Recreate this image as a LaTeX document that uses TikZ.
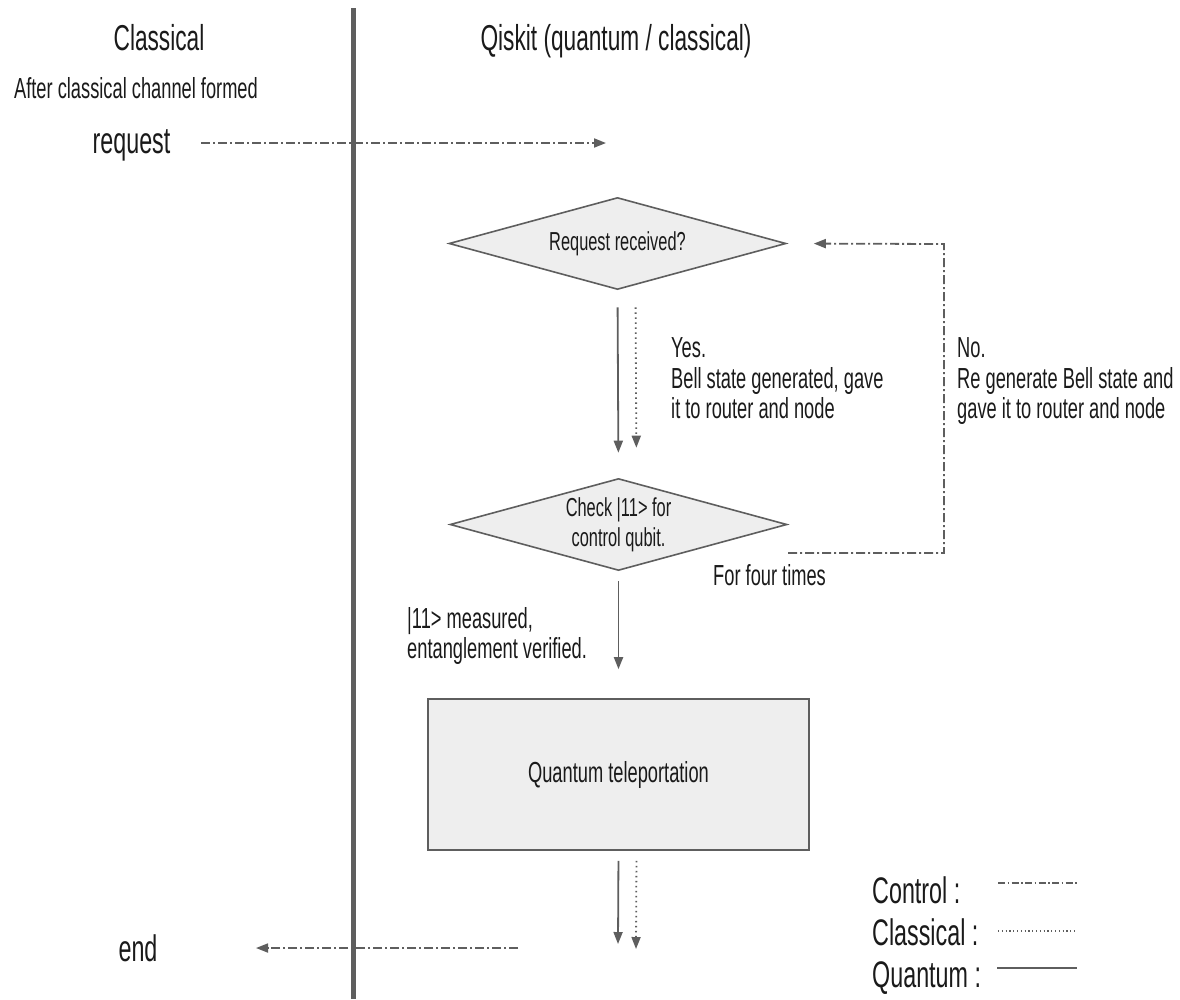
\documentclass[tikz,border=0pt]{standalone}
\usepackage{fontspec}
\setmainfont{Liberation Sans}[FakeStretch=0.63]
\usetikzlibrary{shapes.geometric,arrows.meta}
\definecolor{ln}{HTML}{5E5E5E}
\definecolor{bx}{HTML}{EEEEEE}
\definecolor{tx}{HTML}{1A1A1A}
\tikzset{
  txt/.style={text=tx,inner sep=0pt,anchor=base west},
  ctxt/.style={text=tx,inner sep=0pt,anchor=base},
  tip/.style={-{Triangle[length=12pt,width=9pt]}},
  control/.style={draw=ln,line width=1.8pt,dash pattern=on 9pt off 3pt on 2pt off 3pt},
  classic/.style={draw=ln,line width=1.8pt,dash pattern=on 1.5pt off 3.5pt},
  quantum/.style={draw=ln,line width=1.8pt},
  dec/.style={shape=diamond,draw=ln,fill=bx,line width=1.6pt,aspect=3.66,inner sep=0pt,
    minimum width=337pt,minimum height=92pt,text=tx,align=center},
  proc/.style={draw=ln,fill=bx,line width=1.6pt,minimum width=381pt,minimum height=151pt,text=tx,inner sep=0pt}
}
\begin{document}
\begin{tikzpicture}[x=1pt,y=-1pt]
\useasboundingbox (0,0) rectangle (1180,999);
% separator
\draw[ln,line width=5pt] (353,8) -- (353,999);
% titles
\node[ctxt,font=\fontsize{36}{40}\selectfont] (tcl) at (159,50) {Classical};
\node[ctxt,font=\fontsize{36}{40}\selectfont] (tqk) at (616,50) {Qiskit (quantum / classical)};
\node[ctxt,font=\fontsize{29}{32}\selectfont] (after) at (136,98) {After classical channel formed};
\node[ctxt,font=\fontsize{37}{40}\selectfont] (req) at (131.5,153) {request};
\node[ctxt,font=\fontsize{37}{40}\selectfont] (endt) at (138,961) {end};
% shapes
\node[dec,font=\fontsize{26}{30}\selectfont] (d1) at (617.5,243.5) {Request received?};
\node[dec,font=\fontsize{26}{30}\selectfont] (d2) at (618.5,524.5) {Check |11> for\\control qubit.};
\node[proc,font=\fontsize{29}{32}\selectfont] (qt) at (618.5,774.5) {Quantum teleportation};
% labels
\node[txt,font=\fontsize{29}{31}\selectfont] (yes1) at (671,357) {Yes.};
\node[txt,font=\fontsize{29}{31}\selectfont] (yes2) at (671,388) {Bell state generated, gave};
\node[txt,font=\fontsize{29}{31}\selectfont] (yes3) at (671,418) {it to router and node};
\node[txt,font=\fontsize{29}{31}\selectfont] (no1) at (957,357) {No.};
\node[txt,font=\fontsize{29}{31}\selectfont] (no2) at (957,388) {Re generate Bell state and};
\node[txt,font=\fontsize{29}{31}\selectfont] (no3) at (957,418) {gave it to router and node};
\node[txt,font=\fontsize{29}{31}\selectfont] (four) at (713,585) {For four times};
\node[txt,font=\fontsize{29}{31}\selectfont] (meas1) at (407,628) {|11> measured,};
\node[txt,font=\fontsize{29}{31}\selectfont] (meas2) at (407,658) {entanglement verified.};
% legend
\node[txt,font=\fontsize{37}{40}\selectfont] (lg1) at (872,903) {Control :};
\node[txt,font=\fontsize{37}{40}\selectfont] (lg2) at (872,945) {Classical :};
\node[txt,font=\fontsize{37}{40}\selectfont] (lg3) at (872,987) {Quantum :};
\coordinate (l1a) at (998,883); \coordinate (l1b) at (1077,883);
\coordinate (l2a) at (998,931); \coordinate (l2b) at (1077,931);
\coordinate (l3a) at (997,968); \coordinate (l3b) at (1077,968);
\draw[control,line width=1.3pt,dash pattern=on 7pt off 2.5pt on 1.5pt off 2.5pt] (l1a) -- (l1b);
\draw[classic,line width=1.1pt,dash pattern=on 1.2pt off 2.6pt] (l2a) -- (l2b);
\draw[quantum,line width=1.6pt] (l3a) -- (l3b);
% connectors
\coordinate (reqS) at (201,143);
\coordinate (reqE) at (606,143);
\draw[control,tip] (reqS) -- (reqE);
\draw[quantum,tip,shorten <=17pt,shorten >=25pt] (d1.south) -- (d2.north);
\draw[classic,tip,shorten <=17pt,shorten >=30pt] ([xshift=18pt]d1.south) -- ([xshift=18pt]d2.north);
\draw[quantum,tip,shorten <=10pt,shorten >=29pt] (d2.south) -- (qt.north);
\coordinate (loopS) at (788,553);
\coordinate (loopA) at (944,553);
\coordinate (loopB) at (944,244);
\draw[control,tip,shorten >=27pt] (loopS) -- (loopA) -- (loopB) -- (d1.east);
\coordinate (qout) at (618,944);
\coordinate (cout) at (636,949);
\draw[quantum,tip,shorten <=10pt] (qt.south) -- (qout);
\draw[classic,tip,shorten <=10pt] ([xshift=18pt]qt.south) -- (cout);
\coordinate (endS) at (518,948);
\coordinate (endE) at (256,948);
\draw[control,tip] (endS) -- (endE);
\end{tikzpicture}
\end{document}
